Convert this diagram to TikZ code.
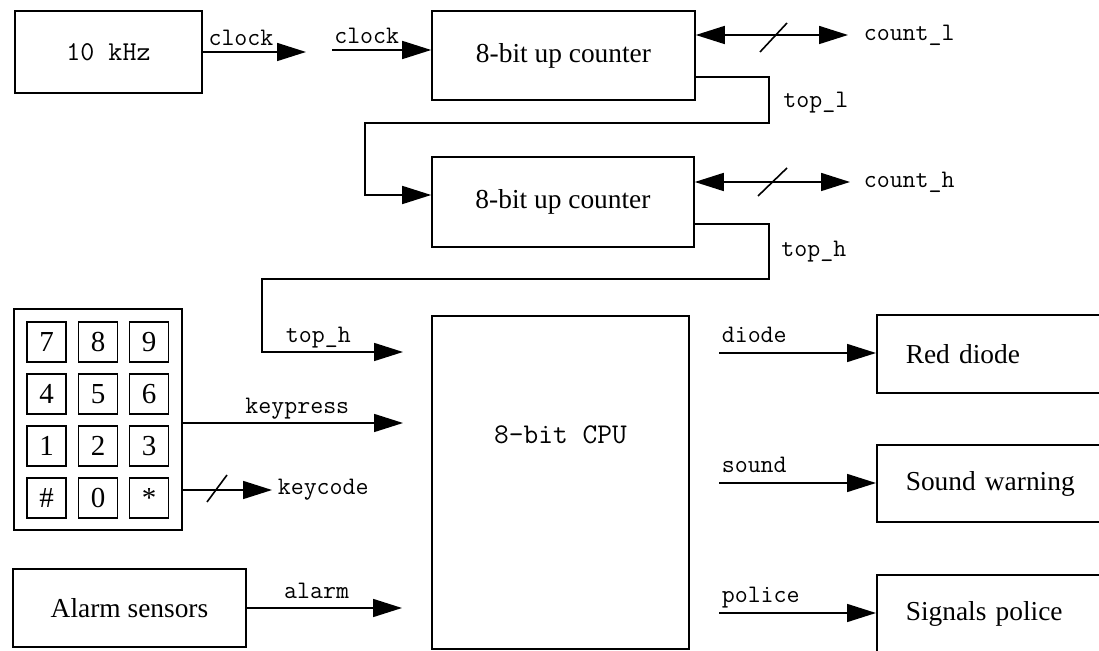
\documentclass[tikz,border=0pt]{standalone}
\usepackage{fontspec}
\setmainfont{Liberation Serif}
\usetikzlibrary{arrows.meta, positioning, calc}

\begin{document}
\begin{tikzpicture}[
  x=0.5pt, y=-0.5pt,
  blk/.style={rectangle, draw, line width=0.8pt, inner sep=0pt, font=\fontsize{13.7}{16}\selectfont},
  key/.style={rectangle, draw, line width=0.8pt, inner sep=0pt, minimum width=19.5pt,
              minimum height=20pt, font=\fontsize{14.5}{16}\selectfont},
  outbox/.style={blk, anchor=west, minimum width=127pt, minimum height=39pt,
                 inner xsep=14.5pt, text width=98pt, align=left},
  lbl/.style={font=\ttfamily\fontsize{12.6}{14}\selectfont, inner sep=0pt},
  lblup/.style={lbl, anchor=base, yshift=4.5pt},
  sig/.style={line width=0.8pt, -{Triangle[length=14.5pt, width=9pt]}},
  bus/.style={line width=0.8pt, {Triangle[length=14.5pt, width=9pt]}-{Triangle[length=14.5pt, width=9pt]}},
  slash/.style={line width=0.8pt},
]
\useasboundingbox (0,0) rectangle (1099,651);
\clip (0,0) rectangle (1099,651);

% ---- clock and counters ----
\node[blk, font=\ttfamily\fontsize{13.6}{15}\selectfont, minimum width=93.5pt, minimum height=41pt] (osc) at (108.5,52) {10 kHz};
\node[blk, minimum width=131.5pt, minimum height=44.5pt] (cntl) at (563.5,55.5) {8-bit up counter};
\node[blk, minimum width=131pt, minimum height=45pt] (cnth) at (563,202) {8-bit up counter};

\coordinate (clkA) at (306,52);
\coordinate (clkB) at (332,50);
\draw[sig] (osc.east) -- node[lblup, pos=0.37, yshift=-1.5pt] (clkAname) {clock} (clkA);
\draw[sig] (clkB) -- node[lblup, pos=0.35, yshift=-1.5pt] (clkBname) {clock} (cntl.west |- clkB);

% buses
\coordinate (cntlout) at (848,35);
\coordinate (cnthout) at (850,182);
\draw[bus] (cntl.east |- cntlout) -- (cntlout) node[lbl, right=7.5pt] (cntlname) {count\_l};
\draw[slash] ([shift={(-88,17)}]cntlout) -- ([shift={(-61,-12)}]cntlout);
\draw[bus] (cnth.east |- cnthout) -- (cnthout) node[lbl, right=6.5pt] (cnthname) {count\_h};
\draw[slash] ([shift={(-92,14)}]cnthout) -- ([shift={(-63,-14)}]cnthout);

% carry lines
\coordinate (tlA) at (769,123);
\coordinate (tlB) at (365,195);
\draw[sig] ([yshift=12pt]cntl.south east) -| (tlA) -| (tlB) -- (cnth.west |- tlB);
\node[lbl, anchor=west] (toplname) at (783,103) {top\_l};

\coordinate (thA) at (769,279);
\coordinate (thB) at (262,352);
\coordinate (cpuinA) at (403,352);
\draw[sig] ([yshift=12pt]cnth.south east) -| (thA) -| (thB) -- node[lblup, pos=0.4] (tophnameB) {top\_h} (cpuinA);
\node[lbl, anchor=west] (tophname) at (781,252) {top\_h};

% ---- keypad ----
\node[blk, minimum width=84pt, minimum height=110.5pt] (keypad) at (98,419.5) {};
\foreach \ka/\kb/\kc [count=\r] in {7/8/9, 4/5/6, 1/2/3, \#/0/*} {
  \node[key] (k\r-a) at (46.5,290+52*\r) {\ka};
  \node[key] (k\r-b) at (98,290+52*\r) {\kb};
  \node[key] (k\r-c) at (149,290+52*\r) {\kc};
}

\coordinate (kpin) at (403,423);
\coordinate (kcode) at (272,490);
\draw[sig] (keypad.east |- kpin) -- node[lblup, pos=0.52] (kpname) {keypress} (kpin);
\draw[sig] (keypad.east |- kcode) -- (kcode) node[lbl, right=2.5pt] (kcname) {keycode};
\draw[slash] ([shift={(-65,12)}]kcode) -- ([shift={(-45,-15)}]kcode);

% ---- alarm ----
\node[blk, minimum width=116.5pt, minimum height=39pt] (alarm) at (129.5,608) {Alarm sensors};
\coordinate (alin) at (402,608);
\draw[sig] (alarm.east) -- node[lblup, pos=0.45] (alname) {alarm} (alin);

% ---- cpu and outputs ----
\node[blk, minimum width=128.5pt, minimum height=166.5pt,
      label={[lbl, font=\ttfamily\fontsize{14.3}{16}\selectfont, yshift=23.75pt]center:8-bit CPU}] (cpu) at (560.5,482.5) {};

\node[outbox] (diode) at (876,354) {Red diode};
\node[outbox, minimum height=38.5pt] (sound) at (876,483.5) {Sound warning};
\node[outbox] (police) at (876,614) {Signals police};
\foreach \o/\y in {diode/353, sound/483, police/613} {
  \coordinate (\o out) at (719,\y);
  \draw[sig] (\o out) -- node[pos=0, lbl, anchor=base west, xshift=1pt, yshift=5pt] (\o name) {\o} (\o.west |- \o out);
}

\end{tikzpicture}
\end{document}
